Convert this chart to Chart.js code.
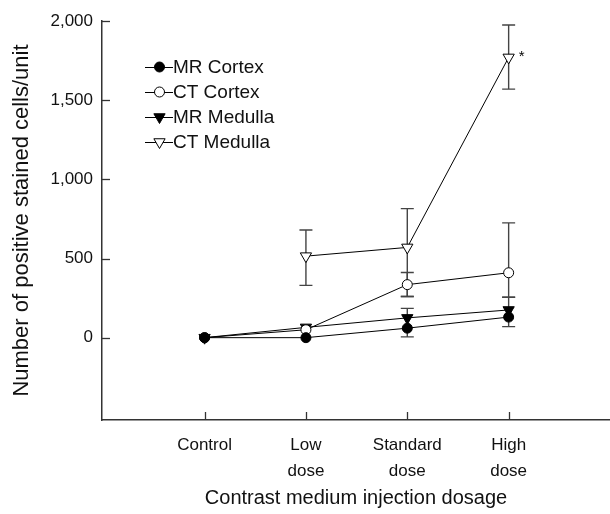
<!DOCTYPE html>
<html>
<head>
<meta charset="utf-8">
<script src="https://cdn.jsdelivr.net/npm/chart.js@4"></script>
<style>
  html, body { margin: 0; padding: 0; background: #fff; }
  #wrap { width: 610px; height: 514px; }
</style>
</head>
<body>
<div id="wrap"><canvas id="chart" width="610" height="514"></canvas></div>
<script>
// dose groups (x positions 0..3)
const categories = ['Control', ['Low', 'dose'], ['Standard', 'dose'], ['High', 'dose']];
const yTicks = [0, 500, 1000, 1500, 2000];

// mean values
const mrCortex = [0, 0, 60, 130];
const ctCortex = [0, 50, 335, 410];
const mrMedulla = [0, 65, 125, 175];
const ctMedulla = [null, 515, 570, 1770];

// error bar ends (null = no bar)
const mrCortexLo = [null, null, 5, 70];
const mrCortexHi = [null, null, null, null];
const ctCortexLo = [null, null, 260, 255];
const ctCortexHi = [null, null, 412, 725];
const mrMedullaLo = [null, null, null, null];
const mrMedullaHi = [null, null, 185, 255];
const ctMedullaLo = [null, 330, 260, 1570];
const ctMedullaHi = [null, 680, 815, 1975];

const FONT = '"Liberation Sans", Arial, sans-serif';

function pts(arr) {
  return arr.map((v, i) => ({ x: i, y: v }));
}

function series(label, values, lo, hi, style, fill, rot) {
  return {
    label: label,
    data: pts(values),
    lo: lo,
    hi: hi,
    borderColor: '#000',
    borderWidth: 1,
    pointStyle: style,
    pointRotation: rot,
    pointRadius: style === 'triangle' ? 6.5 : 5,
    pointBackgroundColor: fill,
    pointBorderColor: '#000',
    pointBorderWidth: 1,
    pointHoverRadius: 5,
    spanGaps: false,
    tension: 0
  };
}

const errorBars = {
  id: 'errorBars',
  beforeDatasetsDraw(chart) {
    const ctx = chart.ctx;
    const xs = chart.scales.x, ys = chart.scales.y;
    ctx.save();
    ctx.strokeStyle = '#444';
    ctx.lineWidth = 1.4;
    chart.data.datasets.forEach(ds => {
      ds.data.forEach((p, i) => {
        if (p.y === null) return;
        const x = xs.getPixelForValue(p.x);
        const yc = ys.getPixelForValue(p.y);
        [ds.lo[i], ds.hi[i]].forEach(e => {
          if (e === null || e === undefined) return;
          const ye = ys.getPixelForValue(e);
          ctx.beginPath();
          ctx.moveTo(x, yc);
          ctx.lineTo(x, ye);
          ctx.moveTo(x - 6.5, ye);
          ctx.lineTo(x + 6.5, ye);
          ctx.stroke();
        });
      });
    });
    ctx.restore();
  }
};

const decor = {
  id: 'decor',
  afterDraw(chart) {
    const ctx = chart.ctx;
    const xs = chart.scales.x, ys = chart.scales.y;
    const a = chart.chartArea;
    ctx.save();
    // inward tick marks
    ctx.strokeStyle = '#333';
    ctx.lineWidth = 1.3;
    yTicks.forEach(v => {
      const y = Math.round(ys.getPixelForValue(v)) + 0.5;
      ctx.beginPath();
      ctx.moveTo(a.left, y);
      ctx.lineTo(a.left + 8, y);
      ctx.stroke();
    });
    categories.forEach((c, i) => {
      const x = Math.round(xs.getPixelForValue(i)) + 0.5;
      ctx.beginPath();
      ctx.moveTo(x, a.bottom);
      ctx.lineTo(x, a.bottom - 8);
      ctx.stroke();
    });
    // significance mark
    const ds = chart.data.datasets[3];
    const px = xs.getPixelForValue(3), py = ys.getPixelForValue(ds.data[3].y);
    ctx.fillStyle = '#000';
    ctx.font = '15px ' + FONT;
    ctx.textAlign = 'left';
    ctx.textBaseline = 'middle';
    ctx.fillText('*', px + 10, py - 1);
    // legend
    const ly = [67, 92, 117, 142];
    ctx.font = '19px ' + FONT;
    chart.data.datasets.forEach((d, i) => {
      const y = ly[i];
      ctx.strokeStyle = '#000';
      ctx.lineWidth = 1;
      ctx.beginPath();
      ctx.moveTo(145, y + 0.5);
      ctx.lineTo(173, y + 0.5);
      ctx.stroke();
      ctx.fillStyle = d.pointBackgroundColor;
      ctx.strokeStyle = '#000';
      Chart.helpers.drawPoint(ctx, {
        pointStyle: d.pointStyle,
        rotation: d.pointRotation,
        radius: d.pointRadius,
        borderWidth: 1
      }, 159.5, y);
      ctx.fillStyle = '#111';
      ctx.textAlign = 'left';
      ctx.textBaseline = 'middle';
      ctx.fillText(d.label, 173, y + 1);
    });
    ctx.restore();
  }
};

const ctx = document.getElementById('chart').getContext('2d');
const myChart = new Chart(ctx, {
  type: 'line',
  data: {
    datasets: [
      series('MR Cortex', mrCortex, mrCortexLo, mrCortexHi, 'circle', '#000', 0),
      series('CT Cortex', ctCortex, ctCortexLo, ctCortexHi, 'circle', '#fff', 0),
      series('MR Medulla', mrMedulla, mrMedullaLo, mrMedullaHi, 'triangle', '#000', 180),
      series('CT Medulla', ctMedulla, ctMedullaLo, ctMedullaHi, 'triangle', '#fff', 180)
    ]
  },
  options: {
    responsive: false,
    animation: false,
    devicePixelRatio: 1,
    layout: { autoPadding: false, padding: { top: 21, right: 0, left: 0, bottom: 0 } },
    plugins: {
      legend: { display: false },
      tooltip: { enabled: false }
    },
    scales: {
      x: {
        type: 'linear',
        min: -1.012,
        max: 4,
        afterBuildTicks(scale) {
          scale.ticks = categories.map((c, i) => ({ value: i }));
        },
        afterFit(scale) { scale.height = 94; },
        grid: { display: false, drawTicks: false },
        border: { display: true, color: '#333', width: 1.5 },
        ticks: {
          autoSkip: false,
          maxRotation: 0,
          padding: 12,
          color: '#111',
          font: { family: FONT, size: 17, lineHeight: 1.55 },
          callback: v => categories[v]
        },
        title: {
          display: true,
          text: 'Contrast medium injection dosage',
          color: '#111',
          font: { family: FONT, size: 20 },
          padding: { top: 0, bottom: 4 }
        }
      },
      y: {
        min: -520,
        max: 2000,
        afterBuildTicks(scale) {
          scale.ticks = yTicks.map(v => ({ value: v }));
        },
        afterFit(scale) { scale.width = 102; },
        grid: { display: false, drawTicks: false },
        border: { display: true, color: '#333', width: 1.5 },
        ticks: {
          padding: 9,
          color: '#111',
          font: { family: FONT, size: 17 },
          callback: v => v.toLocaleString('en-US')
        },
        title: {
          display: true,
          text: 'Number of positive stained cells/unit',
          color: '#111',
          font: { family: FONT, size: 22 },
          padding: { top: 9, bottom: 0 }
        }
      }
    }
  },
  plugins: [errorBars, decor]
});
</script>
</body>
</html>
